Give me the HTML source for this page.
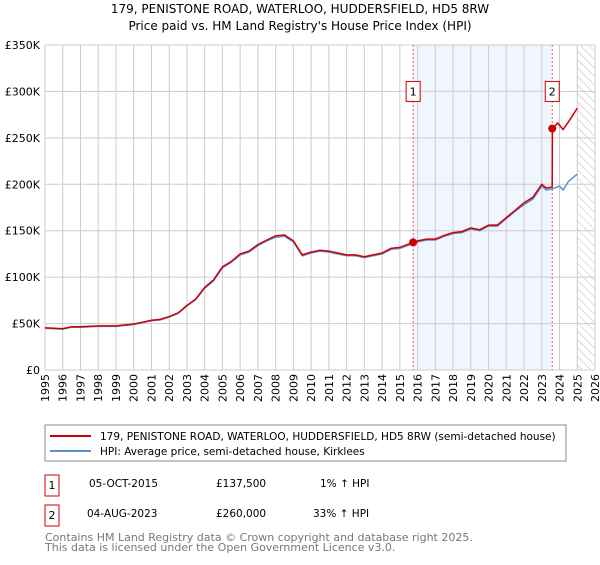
<!DOCTYPE html>
<html><head><meta charset="utf-8"><style>
body{margin:0;background:#fff;font-family:"Liberation Sans","DejaVu Sans",sans-serif;}
svg text{font-family:"DejaVu Sans","Liberation Sans",sans-serif;}
</style></head><body>
<svg id="c" width="600" height="560" xmlns="http://www.w3.org/2000/svg">
<defs><pattern id="hatch" width="6" height="6" patternUnits="userSpaceOnUse" patternTransform="rotate(-45)"><line x1="0" y1="0" x2="0" y2="6" stroke="#bbb" stroke-width="1"/></pattern></defs>
<text x="300" y="13" text-anchor="middle" font-size="12" fill="#000">179, PENISTONE ROAD, WATERLOO, HUDDERSFIELD, HD5 8RW</text>
<text x="300" y="30" text-anchor="middle" font-size="12" fill="#000">Price paid vs. HM Land Registry's House Price Index (HPI)</text>
<g id="plot"></g>
<rect x="45" y="425" width="521" height="36" fill="#fff" stroke="#888"/>
<line x1="50" y1="436" x2="91" y2="436" stroke="#cc0000" stroke-width="2"/>
<text x="100" y="440" font-size="10.5">179, PENISTONE ROAD, WATERLOO, HUDDERSFIELD, HD5 8RW (semi-detached house)</text>
<line x1="50" y1="451" x2="91" y2="451" stroke="#5b8fd4" stroke-width="2"/>
<text x="100" y="455" font-size="10.5">HPI: Average price, semi-detached house, Kirklees</text>
<g>
<rect x="45" y="475" width="14" height="21" fill="#fff" stroke="#cc0000"/><text x="52" y="489" text-anchor="middle" font-size="11">1</text>
<text x="89" y="487" font-size="10.5">05-OCT-2015</text><text x="216" y="487" font-size="10.5">£137,500</text><text x="320" y="487" font-size="10.5">1% ↑ HPI</text></g>
<g>
<rect x="45" y="505" width="14" height="21" fill="#fff" stroke="#cc0000"/><text x="52" y="519" text-anchor="middle" font-size="11">2</text>
<text x="87" y="517" font-size="10.5">04-AUG-2023</text><text x="216" y="517" font-size="10.5">£260,000</text><text x="313" y="517" font-size="10.5">33% ↑ HPI</text></g>
<text x="45" y="541" font-size="11" fill="#777">Contains HM Land Registry data © Crown copyright and database right 2025.</text>
<text x="45" y="551" font-size="11" fill="#777">This data is licensed under the Open Government Licence v3.0.</text>
</svg>
<script>
const hpiYears=[1995,1996,1996.5,1997,1998,1999,2000,2000.5,2001,2001.5,2002,2002.5,2003,2003.5,2004,2004.5,2005,2005.5,2006,2006.5,2007,2007.5,2008,2008.5,2009,2009.5,2010,2010.5,2011,2011.5,2012,2012.5,2013,2013.5,2014,2014.5,2015,2015.75,2016,2016.5,2017,2017.5,2018,2018.5,2019,2019.5,2020,2020.5,2021,2021.5,2022,2022.5,2023,2023.25,2023.6,2024,2024.2,2024.5,2025];
const hpiValues=[45,44,46,46,47,47,49,51,53,54,57,61,69,76,88,96,110,116,124,127,134,139,143,144,138,123,126,128,127,125,123,123,121,123,125,130,131,136,138,140,140,144,147,148,152,150,155,155,163,171,178,184,198,194,195,198,194,203,211];
const propYears=[1995,1996,1996.5,1997,1998,1999,2000,2000.5,2001,2001.5,2002,2002.5,2003,2003.5,2004,2004.5,2005,2005.5,2006,2006.5,2007,2007.5,2008,2008.5,2009,2009.5,2010,2010.5,2011,2011.5,2012,2012.5,2013,2013.5,2014,2014.5,2015,2015.75,2016,2016.5,2017,2017.5,2018,2018.5,2019,2019.5,2020,2020.5,2021,2021.5,2022,2022.5,2023,2023.25,2023.59,2023.6,2023.9,2024.2,2024.6,2025];
const propValues=[45.5,44.5,46.5,46.5,47.5,47.5,49.5,51.5,53.5,54.5,57.5,61.5,69.5,76.5,89,97,111,117,125,128,135,140,144.5,145.5,139,124,127,129,128,126,124,124,122,124,126,131,132,137.5,139,141,141,145,148,149,153,151,156,156,164,172,180,186,200,196,197,260,266,259,270,282];
const saleYears=[2015.75,2023.59];
const saleValues=[137.5,260];
const yTicks=[0,50,100,150,200,250,300,350];
const yTickLabels=["£0","£50K","£100K","£150K","£200K","£250K","£300K","£350K"];
const xTicks=[1995,1996,1997,1998,1999,2000,2001,2002,2003,2004,2005,2006,2007,2008,2009,2010,2011,2012,2013,2014,2015,2016,2017,2018,2019,2020,2021,2022,2023,2024,2025,2026];

const NS="http://www.w3.org/2000/svg";
const X0=45,X1=595,Y0=370,Y1=45;
const x=v=>X0+(v-1995)/(2026-1995)*(X1-X0);
const y=v=>Y0-v/350*(Y0-Y1);
const g=document.getElementById('plot');
function mk(t,a){const e=document.createElementNS(NS,t);for(const k in a)e.setAttribute(k,a[k]);g.appendChild(e);return e;}
let e;
e=mk('rect',{x:x(2015.75),y:Y1,width:x(2023.59)-x(2015.75),height:Y0-Y1,fill:'#eef3fc',opacity:0.8});


e=mk('rect',{x:x(2025.0),y:Y1,width:X1-x(2025.0),height:Y0-Y1,fill:'url(#hatch)'});


xTicks.forEach(t=>{
 e=mk('line',{x1:x(t),x2:x(t),y1:Y1,y2:Y0,stroke:'#ccc','stroke-width':1});
 
 
 e=mk('text',{x:0,y:0,'font-size':11,'text-anchor':'end',transform:`translate(${x(t)+4},${Y0+4}) rotate(-90)`});
 e.textContent=t;
 
 
});
yTicks.forEach((t,i)=>{
 e=mk('line',{x1:X0,x2:X1,y1:y(t),y2:y(t),stroke:'#ccc','stroke-width':1});
 
 
 e=mk('text',{x:X0-5,y:y(t)+4,'font-size':11,'text-anchor':'end'});
 e.textContent=yTickLabels[i];
 
 
});
saleYears.forEach((s,i)=>{
 e=mk('line',{x1:x(s),x2:x(s),y1:Y1,y2:Y0,stroke:'#e06060','stroke-width':1,'stroke-dasharray':'2,2'});
 
 
});
const pts=(xs,vs)=>xs.map((v,i)=>x(v).toFixed(1)+','+y(vs[i]).toFixed(1)).join(' ');
e=mk('polyline',{points:pts(hpiYears,hpiValues),fill:'none',stroke:'#5b8fd4','stroke-width':1.5});


e=mk('polyline',{points:pts(propYears,propValues),fill:'none',stroke:'#cc0000','stroke-width':1.5});


saleYears.forEach((s,i)=>{
 e=mk('circle',{cx:x(s),cy:y(saleValues[i]),r:4,fill:'#cc0000'});
 
 
 e=mk('rect',{x:x(s)-7,y:y(300)-10,width:14,height:20,fill:'#fff',stroke:'#cc0000'});
 
 
 e=mk('text',{x:x(s),y:y(300)+4,'font-size':11,'text-anchor':'middle'});
 e.textContent=String(i+1);
 
 
});
</script>
</body></html>
